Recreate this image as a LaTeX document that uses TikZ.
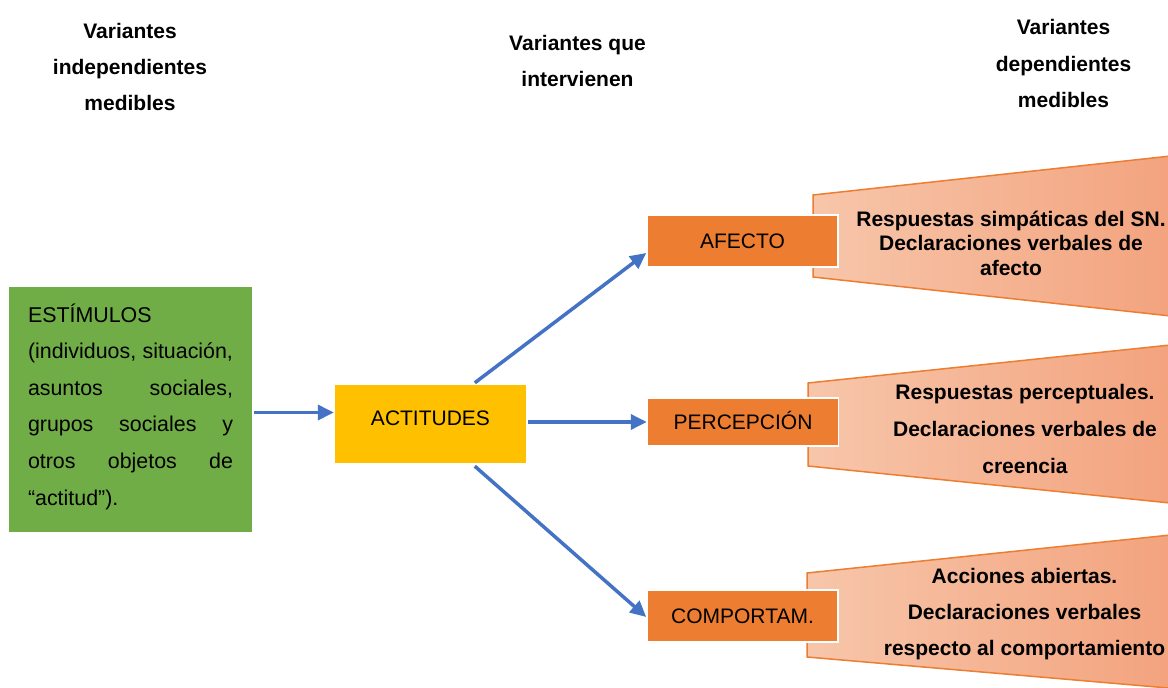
\documentclass[tikz,border=0pt]{standalone}
\usepackage{fontspec}
\setmainfont{Liberation Sans}
\usetikzlibrary{arrows.meta,calc}
\definecolor{cgreen}{HTML}{70AD47}
\definecolor{cyellow}{HTML}{FFC000}
\definecolor{corange}{HTML}{ED7D31}
\definecolor{cblue}{HTML}{4472C4}
\definecolor{cpeachL}{HTML}{F7C6AA}
\definecolor{cpeachR}{HTML}{F3A27D}
\begin{document}
\begin{tikzpicture}[x=1pt,y=-1pt,
  hdr/.style={font=\fontsize{21}{36.3}\selectfont\bfseries, align=center, inner sep=0pt},
  trap/.style={draw=corange, line width=1.5pt, left color=cpeachL, right color=cpeachR},
  ttext/.style={font=\bfseries, align=center, inner sep=0pt},
  obox/.style={fill=corange, draw=white, line width=1.5pt, minimum width=191pt, minimum height=52pt,
    inner sep=0pt, text height=15pt, text depth=0pt, font=\fontsize{21}{25}\selectfont},
  arr/.style={draw=cblue, line width=3.5pt, -{Triangle[length=16pt,width=15pt]}},
  ]
\clip (0,0) rectangle (1168,688);
\fill[white] (0,0) rectangle (1168,688);

% headers
\node[hdr] (h1) at (130,67) {Variantes\\independientes\\medibles};
\node[hdr] (h2) at (577.5,61) {Variantes que\\intervienen};
\node[hdr] (h3) at (1063.5,63.5) {Variantes\\dependientes\\medibles};

% trapezoids
\draw[trap] (813,195) -- (1180,155) -- (1180,317) -- (813,277) -- cycle;
\draw[trap] (808,383) -- (1180,344) -- (1180,504) -- (808,466) -- cycle;
\draw[trap] (807,573) -- (1180,534) -- (1180,689) -- (807,657) -- cycle;

\node[ttext, font=\fontsize{21}{24.5}\selectfont\bfseries] (r1) at (1011,243)
  {Respuestas simpáticas del SN.\\Declaraciones verbales de\\afecto};
\node[ttext, font=\fontsize{21}{37}\selectfont\bfseries] (r2) at (1025,429)
  {Respuestas perceptuales.\\Declaraciones verbales de\\creencia};
\node[ttext, font=\fontsize{21}{36}\selectfont\bfseries] (r3) at (1024.5,614)
  {Acciones abiertas.\\Declaraciones verbales\\respecto al comportamiento};

% stimulus box
\node[fill=cgreen, minimum width=243pt, minimum height=245pt, inner sep=0pt] (stim) at (130.5,409.5) {};
\node[font=\fontsize{21.4}{36.6}\selectfont, align=left, inner sep=0pt, text width=205pt] (stimtext) at (130.5,406.5)
  {ESTÍMULOS\\
   \makebox[205pt]{(individuos,\hfill situación,}\\
   \makebox[205pt]{asuntos\hfill sociales,}\\
   \makebox[205pt]{grupos\hfill sociales\hfill y}\\
   \makebox[205pt]{otros\hfill objetos\hfill de}\\
   “actitud”).};

% actitudes
\node[fill=cyellow, minimum width=191pt, minimum height=78pt, inner sep=0pt,
  text height=15pt, text depth=12pt, font=\fontsize{21}{25}\selectfont] (act) at (430.5,424) {ACTITUDES};

% orange boxes
\node[obox] (afecto) at (742.5,241) {AFECTO};
\node[obox, minimum height=48pt] (percep) at (743,422) {PERCEPCIÓN};
\node[obox] (comport) at (742.5,616) {COMPORTAM.};

% arrows
\draw[arr] ($(stim.east)+(2,3)$) -- ($(act.west |- stim.east)+(-1,3)$);
\draw[arr] ($(act.north west)+(140,-2)$) -- ($(afecto.west)+(0,12)$);
\draw[arr] ($(act.east |- percep.west)+(2,0)$) -- (percep.west);
\draw[arr] ($(act.south west)+(140,3)$) -- ($(comport.west)+(0,1)$);
\end{tikzpicture}
\end{document}
